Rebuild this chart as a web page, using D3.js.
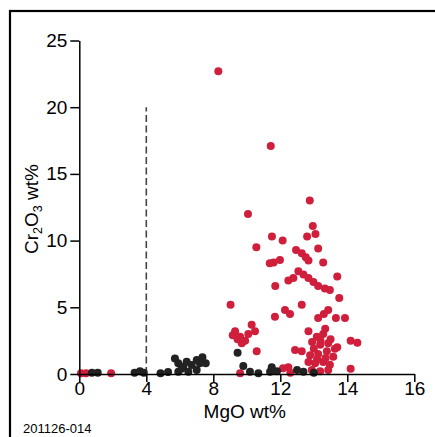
<!DOCTYPE html>
<html><head><meta charset="utf-8">
<script src="https://cdn.jsdelivr.net/npm/d3@7"></script>
<style>
html,body{margin:0;padding:0;background:#fff;}
svg{display:block;font-family:"Liberation Sans",Arial,Helvetica,sans-serif;}
</style></head>
<body>
<script>
// ---- data ----
const xTicks = [0, 4, 8, 12, 14, 16];
const xTickLabels = ["0", "4", "8", "12", "14", "16"];
const yTicks = [0, 5, 10, 15, 20, 25];
const yTickLabels = ["0", "5", "10", "15", "20", "25"];
const xTitle = "MgO wt%";
const figureId = "201126-014";
const dividerMgO = [4, 4];
const dividerCr = [0, 20];

const redMgO = [8.3,11.43,12.88,10.07,12.97,13.05,12.8,11.5,12.07,10.57,13.13,12.47,12.64,12.76,12.84,13.28,11.37,11.6,11.98,13.7,12.54,12.69,12.84,12.99,13.13,13.33,13.48,12.24,12.39,11.7,13.76,9.03,12.64,12.14,12.29,11.68,13.43,13.3,13.13,13.66,13.93,
  9.3,9.16,9.6,9.7,10.29,10.49,10.09,9.9,10.59,9.45,
  14.1,14.3,12.44,12.64,12.84,13.09,13.28,13.34,13.0,13.19,13.43,13.63,12.89,13.13,13.39,13.58,12.84,13.04,13.28,13.48,12.94,13.19,13.43,14.1,13.7,13.2,12.95,13.5,13.1,13.35,
  9.6,12.08,12.24,12.3,0.1,0.4,1.9];
const redCr = [22.7,17.1,13.0,12.0,11.1,10.5,10.3,10.3,10.0,9.5,9.4,9.3,9.05,8.75,8.5,8.35,8.3,8.35,8.55,7.3,7.7,7.45,7.2,6.9,6.6,6.4,6.3,7.0,7.2,6.6,5.7,5.2,5.2,4.8,4.5,4.3,4.8,4.5,4.2,4.2,4.2,
  3.2,2.9,2.8,2.3,3.7,3.2,3.0,2.5,1.7,2.6,
  2.5,2.35,1.8,1.7,3.2,2.8,3.0,3.4,1.9,2.2,2.3,1.9,1.4,1.5,1.7,1.3,0.9,0.8,0.9,0.7,0.3,0.2,0.3,0.4,2.0,2.5,2.4,2.6,1.1,1.2,
  0.05,0.43,0.5,0.1,0.05,0.05,0.05];

const blackMgO = [0.75,1.1,3.3,3.62,3.85,4.85,5.3,5.71,5.91,6.21,6.41,6.71,7.01,7.2,7.35,7.55,5.91,6.51,7.01,6.1,9.45,9.79,10.19,10.69,11.39,11.49,11.8,12.69,12.5,13.0];
const blackCr = [0.1,0.1,0.1,0.2,0.1,0.05,0.15,1.17,0.8,0.55,0.92,0.67,1.05,0.8,1.25,0.8,0.17,0.17,0.3,0.4,1.6,0.6,0.17,0.05,0.17,0.5,0.2,0.17,0.3,0.1];

// ---- layout ----
const W = 435, H = 437;
const L = 79.3, R = 414.3, T = 40.5, B = 374;
const pw = R - L;

const svg = d3.select("body").append("svg").attr("width", W).attr("height", H);

// frame
svg.append("rect").attr("x", 10).attr("y", 11).attr("width", 440).attr("height", 440)
  .attr("fill", "none").attr("stroke", "#000").attr("stroke-width", 2.2);

// scales (x axis has equally spaced labels 0,4,8,12,14,16)
const x = d3.scaleLinear().domain([0, 12, 14, 16]).range([L, L + pw * 0.6, L + pw * 0.8, R]);
const y = d3.scaleLinear().domain([0, 25]).range([B, T]);

// divider dashed line
svg.append("line")
  .attr("x1", x(dividerMgO[0])).attr("x2", x(dividerMgO[1]))
  .attr("y1", y(dividerCr[0])).attr("y2", y(dividerCr[1]))
  .attr("stroke", "#444").attr("stroke-width", 1.6).attr("stroke-dasharray", "7,3.5");

// points
const red = redMgO.map((v, i) => [v, redCr[i]]);
const black = blackMgO.map((v, i) => [v, blackCr[i]]);
svg.append("g").selectAll("circle").data(red).join("circle")
  .attr("cx", d => x(d[0])).attr("cy", d => y(d[1])).attr("r", 4)
  .attr("fill", "#d01f3c");
svg.append("g").selectAll("circle").data(black).join("circle")
  .attr("cx", d => x(d[0])).attr("cy", d => y(d[1])).attr("r", 4)
  .attr("fill", "#222");

// axes
const xAxis = d3.axisBottom(x).tickValues(xTicks).tickFormat((d, i) => xTickLabels[i]).tickSize(8).tickPadding(0).tickSizeOuter(0);
const gx = svg.append("g").attr("transform", `translate(0,${B})`).call(xAxis);
const yAxis = d3.axisLeft(y).tickValues(yTicks).tickFormat((d, i) => yTickLabels[i]).tickSize(9).tickPadding(3).tickSizeOuter(0);
const gy = svg.append("g").attr("transform", `translate(${L},0)`).call(yAxis);
[gx, gy].forEach(g => {
  g.select(".domain").attr("stroke", "#000").attr("stroke-width", 1.5);
  g.selectAll(".tick line").attr("stroke", "#000").attr("stroke-width", 1.5);
  g.selectAll(".tick text").attr("fill", "#000").attr("font-size", 19)
    .attr("font-family", '"Liberation Sans",Arial,sans-serif');
});

// titles
svg.append("text").attr("x", (L + R) / 2 - 2).attr("y", 418).attr("text-anchor", "middle")
  .attr("font-size", 19).attr("fill", "#000").text(xTitle);

const yt = svg.append("text").attr("transform", `translate(38,209) rotate(-90)`)
  .attr("text-anchor", "middle").attr("font-size", 19).attr("fill", "#000");
yt.append("tspan").text("Cr");
yt.append("tspan").attr("font-size", 12.5).attr("dy", 4).text("2");
yt.append("tspan").attr("dy", -4).text("O");
yt.append("tspan").attr("font-size", 12.5).attr("dy", 4).text("3");
yt.append("tspan").attr("dy", -4).text(" wt%");

svg.append("text").attr("x", 23).attr("y", 433).attr("font-size", 13).attr("fill", "#000").text(figureId);
</script>
</body></html>
